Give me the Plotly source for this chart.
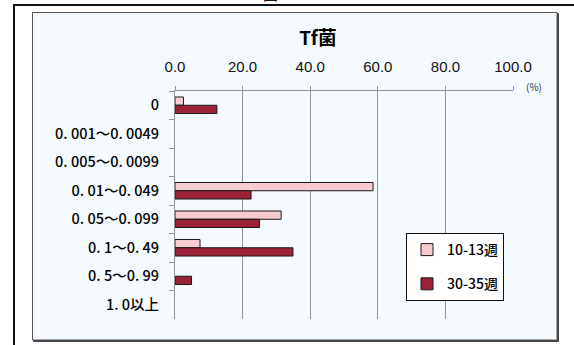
import plotly.graph_objects as go

# Concentration classes (y axis, top to bottom)
categories = [
    "0",
    "0. 001～0. 0049",
    "0. 005～0. 0099",
    "0. 01～0. 049",
    "0. 05～0. 099",
    "0. 1～0. 49",
    "0. 5～0. 99",
    "1. 0以上",
]

# Share of samples in each class (%)
series_names = ["10-13週", "30-35週"]
values_early = [2.5, 0, 0, 58.6, 31.4, 7.4, 0, 0]
values_late = [12.4, 0, 0, 22.5, 25.0, 34.9, 4.9, 0]

x_ticks = [0, 20, 40, 60, 80, 100]

colors = ["#f6ccd1", "#9c2337"]

W, H = 574, 345
L, R, T, B = 175, 61, 91, 26
PW, PH = W - L - R, H - T - B


def px(x):
    return (x - L) / PW


def py(y):
    return (H - B - y) / PH


fig = go.Figure()
for i, (name, vals) in enumerate(zip(series_names, [values_early, values_late])):
    # empty classes get no outline so nothing is drawn for them
    outline = [1 if v > 0 else 0 for v in vals]
    fig.add_trace(go.Bar(
        y=categories, x=vals, name=name, orientation="h",
        marker=dict(color=colors[i], line=dict(color="#1a1a1a", width=outline)),
        legendgroup=name,
    ))

bg = "#f5faff"
fig.update_layout(
    width=W, height=H, autosize=False,
    margin=dict(l=L, r=R, t=T, b=B),
    paper_bgcolor="white", plot_bgcolor=bg,
    barmode="group", bargap=0.42, bargroupgap=0,
    font=dict(family="Noto Sans CJK JP", color="#111"),
    title=dict(text="<b>Tf菌</b>", x=318 / W, xanchor="center",
               y=1 - 38 / H, yanchor="middle",
               font=dict(size=19, family="Noto Sans CJK JP", color="#000")),
    xaxis=dict(
        side="top", range=[0, 100], tickvals=x_ticks, tickformat=".1f",
        showgrid=True, gridcolor="#959595", gridwidth=1,
        ticks="outside", ticklen=4, tickcolor="#959595",
        showline=True, linecolor="#959595", linewidth=1,
        zeroline=False, fixedrange=True,
        tickfont=dict(family="Liberation Sans", size=15, color="#111"),
        ticklabelstandoff=8,
    ),
    yaxis=dict(
        type="category", categoryorder="array", categoryarray=categories,
        autorange="reversed", tickson="boundaries",
        ticks="outside", ticklen=5, tickcolor="#959595",
        showline=True, linecolor="#959595", linewidth=1,
        showgrid=False, zeroline=False,
        tickfont=dict(family="Noto Sans CJK JP", size=14.5, color="#000",
                      weight=500),
        ticklabelstandoff=12,
    ),
    legend=dict(
        x=px(406), y=py(233), xanchor="left", yanchor="top",
        bgcolor="white", bordercolor="#111", borderwidth=1,
        font=dict(family="Noto Sans CJK JP", size=14, color="#000", weight=500),
        traceorder="grouped", tracegroupgap=13, itemwidth=30,
    ),
    shapes=[
        # outer frame
        dict(type="rect", xref="paper", yref="paper",
             x0=px(14), x1=px(640), y0=py(5), y1=py(400),
             line=dict(color="#111", width=2), layer="below"),
        # shaded panel shadow
        dict(type="rect", xref="paper", yref="paper",
             x0=px(33.5), x1=px(558.5), y0=py(13.5), y1=py(341.5),
             line=dict(color="#444", width=1), fillcolor="#444", layer="below"),
        # shaded panel
        dict(type="rect", xref="paper", yref="paper",
             x0=px(32.5), x1=px(557), y0=py(12.5), y1=py(340),
             line=dict(color="#555", width=1), fillcolor=bg, layer="below"),
    ],
    annotations=[
        dict(text="(%)", xref="paper", yref="paper", x=px(534), y=py(87),
             showarrow=False, xanchor="center", yanchor="middle",
             font=dict(size=10, color="#333", family="Noto Sans CJK JP")),
        dict(text="図", xref="paper", yref="paper", x=px(270), y=py(-6),
             showarrow=False, xanchor="center", yanchor="middle",
             font=dict(size=15, color="#111", family="Noto Sans CJK JP")),
    ],
)

fig.write_html("out.html")
